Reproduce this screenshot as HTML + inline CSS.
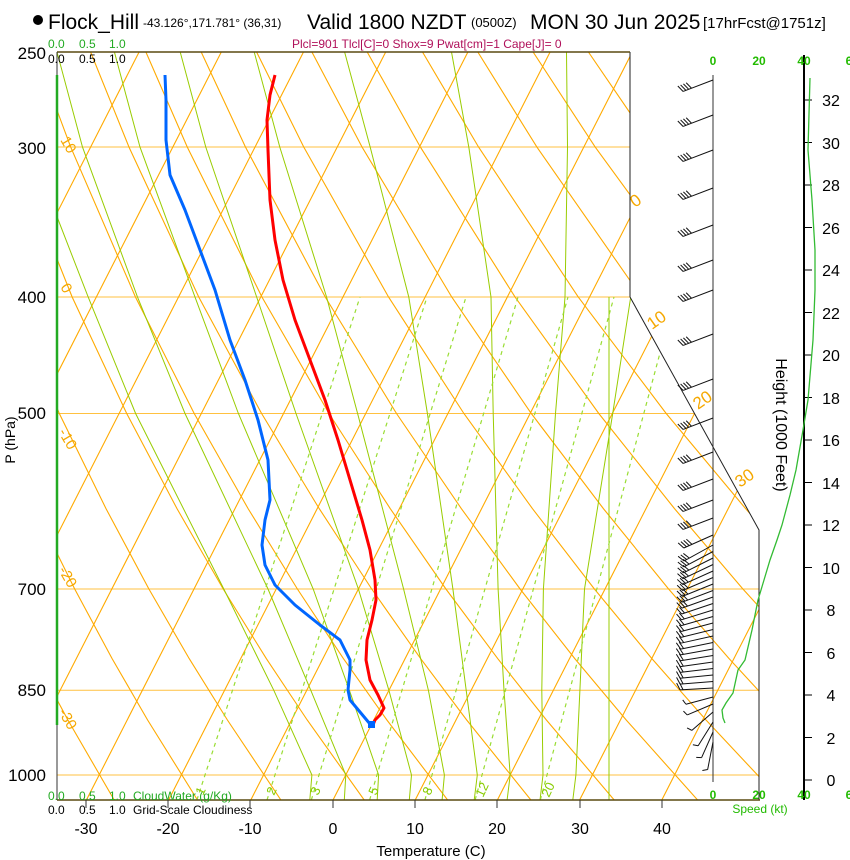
<!DOCTYPE html>
<html><head><meta charset="utf-8"><style>
html,body{margin:0;padding:0;background:#fff;}
svg{display:block;font-family:"Liberation Sans",sans-serif;}
</style></head><body>
<svg width="850" height="860" viewBox="0 0 850 860" xmlns="http://www.w3.org/2000/svg">
<defs>
<clipPath id="cp"><polygon points="57,52 630,52 630,297 759,530 759,800 57,800"/></clipPath>
<g id="b4"><path d="M0,0H-32M-32,0l-3,-7M-29,0l-3,-7M-26,0l-3,-7M-23,0l-3,-7" fill="none" stroke="#111" stroke-width="1"/></g>
<g id="b3"><path d="M0,0H-33M-33,0l-3,-7M-30,0l-3,-7M-27,0l-3,-7" fill="none" stroke="#111" stroke-width="1"/></g>
<g id="b2"><path d="M0,0H-33M-33,0l-3,-7M-30,0l-3,-7" fill="none" stroke="#111" stroke-width="1"/></g>
<g id="b1"><path d="M0,0H-28M-28,0l-2,-5" fill="none" stroke="#111" stroke-width="1"/></g>
</defs>
<g clip-path="url(#cp)" fill="none">
<!-- isobars -->
<g stroke="#ffc140" stroke-width="1">
<line x1="57" y1="147" x2="760" y2="147"/><line x1="57" y1="297" x2="760" y2="297"/><line x1="57" y1="413.5" x2="760" y2="413.5"/><line x1="57" y1="589" x2="760" y2="589"/><line x1="57" y1="690.3" x2="760" y2="690.3"/><line x1="57" y1="775" x2="760" y2="775"/>
</g>
<!-- isotherms -->
<g stroke="#ffaa00" stroke-width="1.1">
<line x1="-406.8" y1="800" x2="-25.3" y2="52"/><line x1="-324.6" y1="800" x2="56.9" y2="52"/><line x1="-242.4" y1="800" x2="139.1" y2="52"/><line x1="-160.2" y1="800" x2="221.3" y2="52"/><line x1="-78" y1="800" x2="303.5" y2="52"/><line x1="4.2" y1="800" x2="385.7" y2="52"/><line x1="86.4" y1="800" x2="467.9" y2="52"/><line x1="168.6" y1="800" x2="550.1" y2="52"/><line x1="250.8" y1="800" x2="632.3" y2="52"/><line x1="333" y1="800" x2="714.5" y2="52"/><line x1="415.2" y1="800" x2="796.7" y2="52"/><line x1="497.4" y1="800" x2="878.9" y2="52"/><line x1="579.6" y1="800" x2="961.1" y2="52"/><line x1="661.8" y1="800" x2="1043.3" y2="52"/>
</g>
<!-- dry adiabats -->
<g stroke="#ffaa00" stroke-width="1.1">
<polyline points="114.2,800 67.9,720 35,658.6"/>
<polyline points="197.5,800 147.6,720 112.1,658.6 74.7,589 34.9,508.6"/>
<polyline points="280.9,800 227.4,720 189.2,658.6 148.9,589 106,508.6 59.3,413.5 9,297.1"/>
<polyline points="364.2,800 307.2,720 266.3,658.6 223.2,589 177,508.6 126.7,413.5 72.2,297.1 12.4,147.1"/>
<polyline points="447.6,800 386.9,720 343.4,658.6 297.4,589 248.1,508.6 194.2,413.5 135.5,297.1 70.7,147.1 35.3,52"/>
<polyline points="530.9,800 466.7,720 420.6,658.6 371.7,589 319.2,508.6 261.6,413.5 198.8,297.1 129,147.1 90.6,52"/>
<polyline points="614.2,800 546.4,720 497.7,658.6 445.9,589 390.2,508.6 329,413.5 262,297.1 187.3,147.1 145.9,52"/>
<polyline points="697.6,800 626.2,720 574.8,658.6 520.1,589 461.3,508.6 396.5,413.5 325.3,297.1 245.5,147.1 201.2,52"/>
<polyline points="780.9,800 706,720 651.9,658.6 594.4,589 532.4,508.6 463.9,413.5 388.6,297.1 303.8,147.1 256.6,52"/>
<polyline points="864.3,800 785.7,720 729.1,658.6 668.6,589 603.4,508.6 531.3,413.5 451.8,297.1 362.1,147.1 311.9,52"/>
<polyline points="947.6,800 865.5,720 806.2,658.6 742.9,589 674.5,508.6 598.8,413.5 515.1,297.1 420.4,147.1 367.2,52"/>
<polyline points="945,720 883.3,658.6 817.1,589 745.6,508.6 666.2,413.5 578.3,297.1 478.6,147.1 422.5,52"/>
<polyline points="960.4,658.6 891.3,589 816.5,508.6 733.6,413.5 641.6,297.1 536.9,147.1 477.8,52"/>
<polyline points="887.5,508.6 801.1,413.5 704.9,297.1 595.2,147.1 533.1,52"/>
<polyline points="768.1,297.1 653.4,147.1 588.4,52"/>
</g>
<!-- moist adiabats -->
<g stroke="#99cc00" stroke-width="1">
<polyline points="309.8,800 311.9,775 273.8,690.3 223.8,589 135.6,413.5 88.2,297.1 30,147.1"/>
<polyline points="344.3,800 345.8,775 310.8,690.3 268,589 185,413.5 137.5,297.1 82.5,147.1 57,52"/>
<polyline points="377.2,800 378.6,775 349.4,690.3 313.2,589 238.4,413.5 195,297.1 140,147.1 114.4,52"/>
<polyline points="409.3,800 411.5,775 388.9,690.3 358.4,589 296,413.5 256.7,297.1 205.8,147.1 180.2,52"/>
<polyline points="442.1,800 444.4,775 428.4,690.3 403.6,589 357.6,413.5 326.6,297.1 279.8,147.1 254.2,52"/>
<polyline points="474.2,800 477.3,775 466.2,690.3 452.9,589 427.4,413.5 408.8,297.1 370.2,147.1 344.6,52"/>
<polyline points="507.1,800 510.2,775 504,690.3 498.1,589 493.2,413.5 491,297.1 468.8,147.1 451.5,52"/>
<polyline points="540,800 543,775 541.8,690.3 543.4,589 555.5,413.5 565,297.1 567.5,147.1 566.5,52"/>
<polyline points="572.8,800 575.9,775 579.9,690.3 584.5,589 612.7,413.5 630.7,297.1"/>
<line x1="609" y1="297" x2="609" y2="800"/>
</g>
<!-- mixing ratio -->
<g stroke="#99dd33" stroke-width="1.2" stroke-dasharray="4,4">
<line x1="196.9" y1="800" x2="360" y2="297"/><line x1="267" y1="800" x2="427" y2="297"/><line x1="311.3" y1="800" x2="466" y2="297"/><line x1="369.6" y1="800" x2="518" y2="297"/><line x1="424.9" y1="800" x2="568" y2="297"/><line x1="475.1" y1="800" x2="614" y2="297"/><line x1="540.3" y1="800" x2="675" y2="297"/>
</g>
</g>
<!-- frame -->
<polyline points="630,52 630,297 759,530 759,800" fill="none" stroke="#222" stroke-width="1"/>
<line x1="57" y1="52" x2="630" y2="52" stroke="#5a4a10" stroke-width="1.5"/>
<line x1="57" y1="800" x2="760" y2="800" stroke="#5a4a10" stroke-width="1.5"/>
<line x1="57" y1="52" x2="57" y2="800" stroke="#333" stroke-width="1"/>
<line x1="57" y1="75" x2="57" y2="725" stroke="#22aa22" stroke-width="2.5"/>
<g stroke="#333" stroke-width="1">
<line x1="86" y1="800" x2="86" y2="808"/><line x1="168" y1="800" x2="168" y2="808"/><line x1="250" y1="800" x2="250" y2="808"/><line x1="333" y1="800" x2="333" y2="808"/><line x1="415" y1="800" x2="415" y2="808"/><line x1="497" y1="800" x2="497" y2="808"/><line x1="580" y1="800" x2="580" y2="808"/><line x1="662" y1="800" x2="662" y2="808"/>
</g>
<!-- wind staff & height axis -->
<line x1="713" y1="75" x2="713" y2="782" stroke="#333" stroke-width="1"/>
<line x1="804" y1="55" x2="804" y2="800" stroke="#000" stroke-width="2"/>
<g>
<use href="#b4" transform="translate(713,80) rotate(-21)"/>
<use href="#b4" transform="translate(713,115) rotate(-21)"/>
<use href="#b4" transform="translate(713,150) rotate(-21)"/>
<use href="#b4" transform="translate(713,188) rotate(-21)"/>
<use href="#b4" transform="translate(713,225) rotate(-21)"/>
<use href="#b4" transform="translate(713,260) rotate(-21)"/>
<use href="#b4" transform="translate(713,290) rotate(-21)"/>
<use href="#b4" transform="translate(713,334) rotate(-21)"/>
<use href="#b4" transform="translate(713,379) rotate(-21)"/>
<use href="#b4" transform="translate(713,418) rotate(-21)"/>
<use href="#b4" transform="translate(713,452) rotate(-21)"/>
<use href="#b4" transform="translate(713,479) rotate(-21)"/>
<use href="#b4" transform="translate(713,500) rotate(-21)"/>
<use href="#b4" transform="translate(713,518) rotate(-21)"/>
<use href="#b4" transform="translate(713,535) rotate(-24)"/>
<use href="#b3" transform="translate(713,545) rotate(-29)"/>
<use href="#b3" transform="translate(713,551.5) rotate(-27.8)"/>
<use href="#b3" transform="translate(713,558) rotate(-26.7)"/>
<use href="#b3" transform="translate(713,564.5) rotate(-25.5)"/>
<use href="#b3" transform="translate(713,571) rotate(-24.3)"/>
<use href="#b3" transform="translate(713,577.5) rotate(-23.2)"/>
<use href="#b3" transform="translate(713,584) rotate(-22)"/>
<use href="#b3" transform="translate(713,590.5) rotate(-20.8)"/>
<use href="#b3" transform="translate(713,597) rotate(-19.7)"/>
<use href="#b2" transform="translate(713,603.5) rotate(-18.5)"/>
<use href="#b2" transform="translate(713,610) rotate(-17.3)"/>
<use href="#b2" transform="translate(713,616.5) rotate(-16.1)"/>
<use href="#b2" transform="translate(713,623) rotate(-15)"/>
<use href="#b2" transform="translate(713,629.5) rotate(-13.8)"/>
<use href="#b2" transform="translate(713,636) rotate(-12.6)"/>
<use href="#b2" transform="translate(713,642.5) rotate(-11.5)"/>
<use href="#b2" transform="translate(713,649) rotate(-10.3)"/>
<use href="#b2" transform="translate(713,655.5) rotate(-9.1)"/>
<use href="#b2" transform="translate(713,662) rotate(-8)"/>
<use href="#b2" transform="translate(713,668.5) rotate(-6.8)"/>
<use href="#b2" transform="translate(713,675) rotate(-5.6)"/>
<use href="#b2" transform="translate(713,681.5) rotate(-4.5)"/>
<use href="#b2" transform="translate(713,688) rotate(-3.3)"/>
<use href="#b1" transform="translate(713,697) rotate(-15)"/>
<use href="#b1" transform="translate(713,704) rotate(-23)"/>
<use href="#b1" transform="translate(713,712) rotate(-41)"/>
<use href="#b1" transform="translate(713,722) rotate(-58)"/>
<use href="#b1" transform="translate(713,732) rotate(-66)"/>
<use href="#b1" transform="translate(713,742) rotate(-79)"/>
</g>
<g stroke="#000" stroke-width="1">
<line x1="804" y1="780" x2="812" y2="780"/><line x1="804" y1="737.5" x2="812" y2="737.5"/><line x1="804" y1="695" x2="812" y2="695"/><line x1="804" y1="652.5" x2="812" y2="652.5"/><line x1="804" y1="610" x2="812" y2="610"/><line x1="804" y1="567.5" x2="812" y2="567.5"/><line x1="804" y1="525" x2="812" y2="525"/><line x1="804" y1="482.5" x2="812" y2="482.5"/><line x1="804" y1="440" x2="812" y2="440"/><line x1="804" y1="397.5" x2="812" y2="397.5"/><line x1="804" y1="355" x2="812" y2="355"/><line x1="804" y1="312.5" x2="812" y2="312.5"/><line x1="804" y1="270" x2="812" y2="270"/><line x1="804" y1="227.5" x2="812" y2="227.5"/><line x1="804" y1="185" x2="812" y2="185"/><line x1="804" y1="142.5" x2="812" y2="142.5"/><line x1="804" y1="100" x2="812" y2="100"/>
</g>
<!-- height line -->
<polyline fill="none" stroke="#33bb33" stroke-width="1.3" points="810,78 808,150 812,200 815,250 815,290 813,340 808,400 803,430 796,470 790,495 782,525 777,540 770,560 764,580 758,600 752,630 745,660 738,670 733,693 726,703 722,710 723,718 725,723"/>
<!-- profiles -->
<polyline fill="none" stroke="#ff0000" stroke-width="3" stroke-linejoin="round" points="275,75 270,95 267,120 268,150 270,200 275,240 283,280 295,320 310,360 325,400 338,440 350,480 362,520 370,550 375,580 376,600 372,620 367,640 366,660 370,680 378,695 384,708 380,715 375,720 373,725"/>
<polyline fill="none" stroke="#0066ff" stroke-width="3" stroke-linejoin="round" points="165,75 166,100 166,140 170,175 185,210 200,250 215,290 230,340 245,380 258,420 268,460 270,500 265,520 262,545 265,565 275,585 295,605 320,625 340,640 350,660 350,670 348,690 350,700 360,712 370,724"/>
<rect x="368" y="721" width="7" height="7" fill="#0066ff"/>
<!-- titles -->
<circle cx="38" cy="20" r="5" fill="#000"/>
<text x="48" y="29" font-size="21">Flock_Hill</text>
<text x="143" y="27" font-size="12">-43.126°,171.781° (36,31)</text>
<text x="307" y="29" font-size="21">Valid 1800 NZDT</text>
<text x="471" y="27" font-size="13">(0500Z)</text>
<text x="530" y="29" font-size="21">MON 30 Jun 2025</text>
<text x="703" y="28" font-size="15">[17hrFcst@1751z]</text>
<text x="292" y="48" font-size="12" fill="#b0105a">Plcl=901 Tlcl[C]=0 Shox=9 Pwat[cm]=1 Cape[J]= 0</text>
<g font-size="12" fill="#22aa22"><text x="48" y="48">0.0</text><text x="79" y="48">0.5</text><text x="109" y="48">1.0</text></g>
<g font-size="12" fill="#000"><text x="48" y="63">0.0</text><text x="79" y="63">0.5</text><text x="109" y="63">1.0</text></g>
<g font-size="17" text-anchor="end" fill="#000">
<text x="46" y="59">250</text><text x="46" y="154">300</text><text x="46" y="303">400</text><text x="46" y="419">500</text><text x="46" y="595">700</text><text x="46" y="696">850</text><text x="46" y="781">1000</text></g>
<text transform="translate(15,440) rotate(-90)" font-size="14" text-anchor="middle">P (hPa)</text>
<g font-size="12" fill="#22aa22"><text x="48" y="800">0.0</text><text x="79" y="800">0.5</text><text x="109" y="800">1.0</text><text x="133" y="800">CloudWater (g/Kg)</text></g>
<g font-size="12" fill="#000"><text x="48" y="814">0.0</text><text x="79" y="814">0.5</text><text x="109" y="814">1.0</text><text x="133" y="814">Grid-Scale Cloudiness</text></g>
<g font-size="16" text-anchor="middle"><text x="86" y="834">-30</text><text x="168" y="834">-20</text><text x="250" y="834">-10</text><text x="333" y="834">0</text><text x="415" y="834">10</text><text x="497" y="834">20</text><text x="580" y="834">30</text><text x="662" y="834">40</text></g>
<text x="431" y="856" font-size="15" text-anchor="middle">Temperature (C)</text>
<g font-size="12" font-weight="bold" fill="#22bb00" text-anchor="middle"><text x="713" y="65">0</text><text x="759" y="65">20</text><text x="804" y="65">40</text><text x="849" y="65">6</text>
<text x="713" y="799">0</text><text x="759" y="799">20</text><text x="804" y="799">40</text><text x="849" y="799">6</text></g>
<text x="760" y="813" font-size="12" fill="#22bb00" text-anchor="middle">Speed (kt)</text>
<text transform="translate(776,425) rotate(90)" font-size="16" text-anchor="middle">Height (1000 Feet)</text>
<g font-size="16" text-anchor="middle">
<text x="831" y="786">0</text><text x="831" y="744">2</text><text x="831" y="701">4</text><text x="831" y="659">6</text><text x="831" y="616">8</text><text x="831" y="574">10</text><text x="831" y="531">12</text><text x="831" y="489">14</text><text x="831" y="446">16</text><text x="831" y="404">18</text><text x="831" y="361">20</text><text x="831" y="319">22</text><text x="831" y="276">24</text><text x="831" y="234">26</text><text x="831" y="191">28</text><text x="831" y="149">30</text><text x="831" y="106">32</text></g>
<g font-size="15" fill="#f5a800">
<text transform="translate(60,140) rotate(60)">10</text>
<text transform="translate(60,287) rotate(60)">0</text>
<text transform="translate(58,432) rotate(60)">-10</text>
<text transform="translate(58,570) rotate(60)">-20</text>
<text transform="translate(58,712) rotate(60)">-30</text>
<text transform="translate(635,208) rotate(-35)" font-size="17">0</text>
<text transform="translate(652,330) rotate(-35)" font-size="17">10</text>
<text transform="translate(698,410) rotate(-35)" font-size="17">20</text>
<text transform="translate(740,488) rotate(-35)" font-size="17">30</text>
</g>
<g font-size="13" fill="#88cc00">
<text transform="translate(203,796) rotate(-65)">1</text>
<text transform="translate(274,796) rotate(-65)">2</text>
<text transform="translate(318,796) rotate(-65)">3</text>
<text transform="translate(376,796) rotate(-65)">5</text>
<text transform="translate(430,796) rotate(-65)">8</text>
<text transform="translate(483,798) rotate(-65)">12</text>
<text transform="translate(549,798) rotate(-65)">20</text>
</g>
</svg>
</body></html>
